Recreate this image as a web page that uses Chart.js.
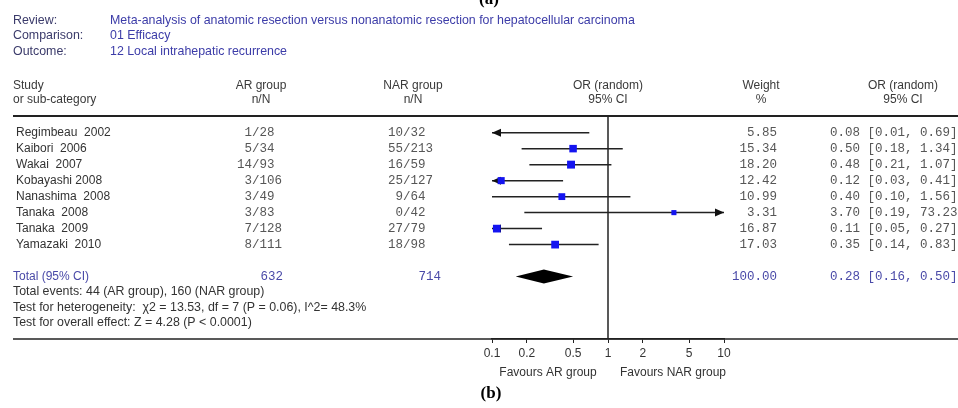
<!DOCTYPE html>
<html>
<head>
<meta charset="utf-8">
<script src="https://cdn.jsdelivr.net/npm/chart.js@4.4.1/dist/chart.umd.min.js"></script>
<style>
  body { margin: 0; background: #fff; }
  canvas { display: block; }
</style>
</head>
<body>
<canvas id="forestChart" width="958" height="408"></canvas>
<script>
// data
const studies = ['Regimbeau  2002', 'Kaibori  2006', 'Wakai  2007', 'Kobayashi 2008', 'Nanashima  2008', 'Tanaka  2008', 'Tanaka  2009', 'Yamazaki  2010'];
const arEvents = [1, 5, 14, 3, 3, 3, 7, 8];
const arTotal = [28, 34, 93, 106, 49, 83, 128, 111];
const narEvents = [10, 55, 16, 25, 9, 0, 27, 18];
const narTotal = [32, 213, 59, 127, 64, 42, 79, 98];
const weights = [5.85, 15.34, 18.20, 12.42, 10.99, 3.31, 16.87, 17.03];
const oddsRatios = [0.08, 0.50, 0.48, 0.12, 0.40, 3.70, 0.11, 0.35];
const ciLow = [0.01, 0.18, 0.21, 0.03, 0.10, 0.19, 0.05, 0.14];
const ciHigh = [0.69, 1.34, 1.07, 0.41, 1.56, 73.23, 0.27, 0.83];
const totalN = [632, 714];
const totalOR = [0.28, 0.16, 0.50];   // estimate, lower, upper
const tickValues = [0.1, 0.2, 0.5, 1, 2, 5, 10];

const X_MIN = 0.1, X_MAX = 10;
const TOTAL_ROW = 9;
const SANS = '"Liberation Sans", Arial, sans-serif';
const MONO = '"Liberation Mono", "Courier New", monospace';
const DATA_GREY = '#565656';

function line(ctx, x1, y1, x2, y2) {
  ctx.beginPath();
  ctx.moveTo(x1, y1);
  ctx.lineTo(x2, y2);
  ctx.stroke();
}

function arrowHead(ctx, tipX, py, dir) {
  ctx.beginPath();
  ctx.moveTo(tipX, py);
  ctx.lineTo(tipX - dir * 9, py - 4);
  ctx.lineTo(tipX - dir * 9, py + 4);
  ctx.closePath();
  ctx.fill();
}

function text(ctx, str, x, y, align, font, color) {
  ctx.font = font;
  ctx.fillStyle = color;
  ctx.textAlign = align;
  ctx.textBaseline = 'middle';
  ctx.fillText(str, x, y);
}

// n/N cells line up on the slash
function nN(ctx, n, N, slashX, py) {
  const f = '12.5px ' + MONO;
  text(ctx, String(n), slashX, py, 'right', f, DATA_GREY);
  text(ctx, '/' + N, slashX, py, 'left', f, DATA_GREY);
}

const forestPlugin = {
  id: 'forest',
  beforeDatasetsDraw(chart) {
    const { ctx, chartArea: a, scales: { x, y } } = chart;
    ctx.save();
    ctx.strokeStyle = '#222';
    ctx.fillStyle = '#111';

    // table rules
    ctx.lineWidth = 2;
    line(ctx, 13, 116, 958, 116);
    ctx.lineWidth = 1.5;
    line(ctx, 13, a.bottom, 958, a.bottom);

    // line of no effect
    const x1 = x.getPixelForValue(1);
    line(ctx, x1, a.top, x1, a.bottom);

    // confidence intervals
    studies.forEach((s, i) => {
      const py = y.getPixelForValue(i);
      const l = x.getPixelForValue(Math.max(ciLow[i], X_MIN));
      const r = x.getPixelForValue(Math.min(ciHigh[i], X_MAX));
      line(ctx, l, py, r, py);
      if (ciLow[i] < X_MIN) arrowHead(ctx, l, py, -1);
      if (ciHigh[i] > X_MAX) arrowHead(ctx, r, py, 1);
    });

    // pooled diamond
    const ty = y.getPixelForValue(TOTAL_ROW);
    ctx.beginPath();
    ctx.moveTo(x.getPixelForValue(totalOR[1]), ty);
    ctx.lineTo(x.getPixelForValue(totalOR[0]), ty - 7);
    ctx.lineTo(x.getPixelForValue(totalOR[2]), ty);
    ctx.lineTo(x.getPixelForValue(totalOR[0]), ty + 7);
    ctx.closePath();
    ctx.fillStyle = '#000';
    ctx.fill();
    ctx.restore();
  },
  afterDraw(chart) {
    const { ctx, scales: { y } } = chart;
    ctx.save();
    const head = '12.4px ' + SANS;
    const col = '12px ' + SANS;

    // figure letters
    text(ctx, '(a)', 489, 0, 'center', 'bold 17px "Liberation Serif", serif', '#000');
    text(ctx, '(b)', 491, 394, 'center', 'bold 17px "Liberation Serif", serif', '#000');

    // review header
    text(ctx, 'Review:', 13, 21, 'left', head, '#3a3a6a');
    text(ctx, 'Comparison:', 13, 36, 'left', head, '#3a3a6a');
    text(ctx, 'Outcome:', 13, 52, 'left', head, '#3a3a6a');
    text(ctx, 'Meta-analysis of anatomic resection versus nonanatomic resection for hepatocellular carcinoma', 110, 21, 'left', head, '#3c3ca8');
    text(ctx, '01 Efficacy', 110, 36, 'left', head, '#3c3ca8');
    text(ctx, '12 Local intrahepatic recurrence', 110, 52, 'left', head, '#3c3ca8');

    // column headers
    const hc = '#3a3a3a';
    text(ctx, 'Study', 13, 86, 'left', col, hc);
    text(ctx, 'or sub-category', 13, 100, 'left', col, hc);
    text(ctx, 'AR group', 261, 86, 'center', col, hc);
    text(ctx, 'n/N', 261, 100, 'center', col, hc);
    text(ctx, 'NAR group', 413, 86, 'center', col, hc);
    text(ctx, 'n/N', 413, 100, 'center', col, hc);
    text(ctx, 'OR (random)', 608, 86, 'center', col, hc);
    text(ctx, '95% CI', 608, 100, 'center', col, hc);
    text(ctx, 'Weight', 761, 86, 'center', col, hc);
    text(ctx, '%', 761, 100, 'center', col, hc);
    text(ctx, 'OR (random)', 903, 86, 'center', col, hc);
    text(ctx, '95% CI', 903, 100, 'center', col, hc);

    // study rows
    const mono = '12.5px ' + MONO;
    studies.forEach((s, i) => {
      const py = y.getPixelForValue(i);
      text(ctx, s, 16, py, 'left', col, '#333');
      nN(ctx, arEvents[i], arTotal[i], 252, py);
      nN(ctx, narEvents[i], narTotal[i], 403, py);
      text(ctx, weights[i].toFixed(2), 777, py, 'right', mono, DATA_GREY);
      text(ctx, oddsRatios[i].toFixed(2) + ' [' + ciLow[i].toFixed(2) + ', ' + ciHigh[i].toFixed(2) + ']', 830, py, 'left', mono, DATA_GREY);
    });

    // pooled row
    const ty = y.getPixelForValue(TOTAL_ROW);
    const blue = '#4a4aa8';
    text(ctx, 'Total (95% CI)', 13, ty, 'left', col, blue);
    text(ctx, String(totalN[0]), 283, ty, 'right', mono, blue);
    text(ctx, String(totalN[1]), 441, ty, 'right', mono, blue);
    text(ctx, '100.00', 777, ty, 'right', mono, blue);
    text(ctx, totalOR[0].toFixed(2) + ' [' + totalOR[1].toFixed(2) + ', ' + totalOR[2].toFixed(2) + ']', 830, ty, 'left', mono, blue);

    // summary statistics
    text(ctx, 'Total events: 44 (AR group), 160 (NAR group)', 13, 292, 'left', head, '#333');
    text(ctx, 'Test for heterogeneity:  \u03c72 = 13.53, df = 7 (P = 0.06), I^2= 48.3%', 13, 308, 'left', head, '#333');
    text(ctx, 'Test for overall effect: Z = 4.28 (P < 0.0001)', 13, 323, 'left', head, '#333');

    // axis captions
    text(ctx, 'Favours AR group', 548, 373, 'center', col, '#333');
    text(ctx, 'Favours NAR group', 673, 373, 'center', col, '#333');
    ctx.restore();
  }
};

const ctx = document.getElementById('forestChart');
new Chart(ctx, {
  type: 'scatter',
  data: {
    datasets: [{
      data: oddsRatios.map((v, i) => ({ x: v, y: i })),
      pointStyle: 'rect',
      pointRadius: weights.map(w => (3 + Math.sqrt(w) * 1.15) / Math.SQRT2),
      backgroundColor: '#1414f0',
      borderWidth: 0,
      clip: 0
    }]
  },
  options: {
    responsive: false,
    animation: false,
    layout: { padding: { left: 492, right: 234, top: 116, bottom: 39 } },
    plugins: { legend: { display: false }, tooltip: { enabled: false } },
    scales: {
      x: {
        type: 'logarithmic',
        min: X_MIN,
        max: X_MAX,
        afterBuildTicks: s => { s.ticks = tickValues.map(v => ({ value: v })); },
        afterFit: s => { s.height = 30; },
        ticks: {
          callback: v => String(v),
          autoSkip: false,
          maxRotation: 0,
          color: '#333',
          padding: 3,
          font: { family: SANS, size: 12 }
        },
        grid: { drawOnChartArea: false, tickLength: 4, color: '#222' },
        border: { color: '#222', width: 1.5 }
      },
      y: { display: false, reverse: true, min: -1.04, max: 12.9 }
    }
  },
  plugins: [forestPlugin]
});
</script>
</body>
</html>
